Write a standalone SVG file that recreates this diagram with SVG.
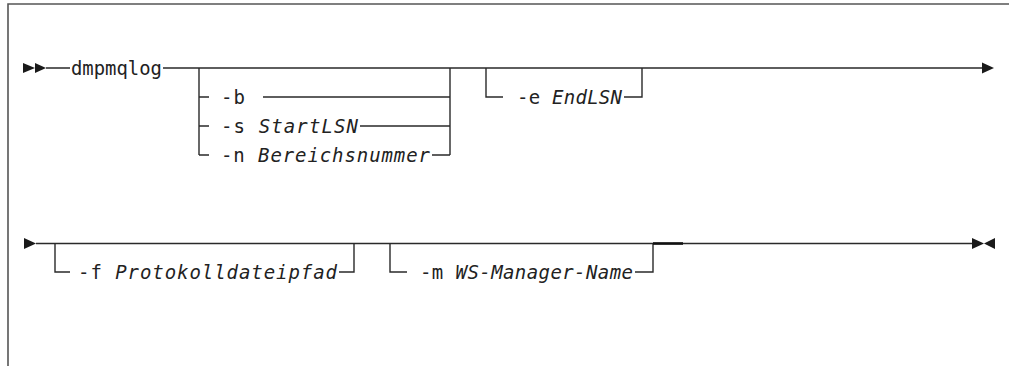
<svg xmlns="http://www.w3.org/2000/svg" width="1009" height="366" viewBox="0 0 1009 366">
<style>
.ln{stroke:#2a2a2a;stroke-width:1.4;fill:none}
.bd{stroke:#555;stroke-width:1.6;fill:none}
.ah{fill:#1a1a1a}
.t{font-family:"DejaVu Sans Mono","Liberation Mono",monospace;font-size:19px;fill:#222}
.i{font-style:italic}
</style>
<rect width="1009" height="366" fill="#fff"/>
<g id="frame"><path class="bd" d="M8 366V4H1009"/></g>
<g id="connectors">
<path class="ln" d="M46 68H70M163 68H982"/>
<path class="ln" d="M199 68V155M199 97H209M199 126H209M199 155H209M263 97H450M360 126H450M432 155H450M450 68V155"/>
<path class="ln" d="M486 68V97H503M624 97H642V68"/>
<path class="ln" d="M36 243.5H972"/>
<path class="ln" d="M55 243.5V272H70M339 272H354V243.5"/>
<path class="ln" d="M390 243.5V272H407M635 272H653V243.5"/>
<path d="M653 243.5H683" stroke="#111" stroke-width="2.6"/>
<polygon class="ah" points="23,63 35,68 23,73"/>
<polygon class="ah" points="35,63 46,68 35,73"/>
<polygon class="ah" points="982,62.5 994,68 982,73.5"/>
<polygon class="ah" points="24,238 36,243.5 24,249"/>
<polygon class="ah" points="972,238 984,243.5 972,249"/>
<polygon class="ah" points="995,238 984,243.5 995,249"/>
</g>
<g id="n-dmpmqlog"><text class="t" x="71" y="74.5" textLength="91" lengthAdjust="spacingAndGlyphs">dmpmqlog</text></g>
<g id="n-b"><text class="t" x="221" y="103.5" textLength="24" lengthAdjust="spacing">-b</text></g>
<g id="n-s"><text class="t" x="221" y="132.5" textLength="137" lengthAdjust="spacing">-s <tspan class="i">StartLSN</tspan></text></g>
<g id="n-n"><text class="t" x="221" y="161.5" textLength="209" lengthAdjust="spacing">-n <tspan class="i">Bereichsnummer</tspan></text></g>
<g id="n-e"><text class="t" x="517" y="103.5" textLength="105" lengthAdjust="spacing">-e <tspan class="i">EndLSN</tspan></text></g>
<g id="n-f"><text class="t" x="78" y="278.5" textLength="259" lengthAdjust="spacing">-f <tspan class="i">Protokolldateipfad</tspan></text></g>
<g id="n-m"><text class="t" x="420" y="278.5" textLength="213" lengthAdjust="spacing">-m <tspan class="i">WS-Manager-Name</tspan></text></g>
</svg>
